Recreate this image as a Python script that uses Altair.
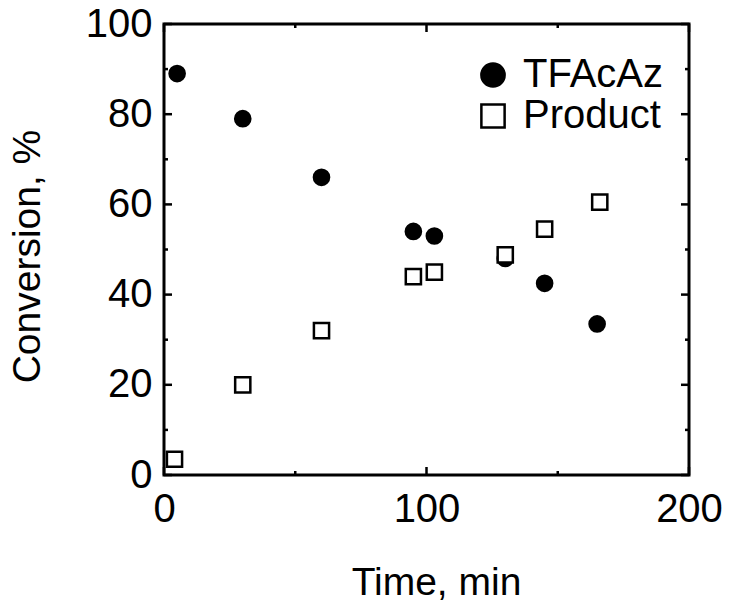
import altair as alt
import pandas as pd

# Conversion of TFAcAz and formation of product over time
time_tfacaz = [5, 30, 60, 95, 103, 130, 145, 165]
conv_tfacaz = [89, 79, 66, 54, 53, 48, 42.5, 33.5]
time_product = [4, 30, 60, 95, 103, 130, 145, 166]
conv_product = [3.5, 20, 32, 44, 45, 48.8, 54.5, 60.5]
series_names = ["TFAcAz", "Product"]

x_major = [0, 100, 200]
x_minor = [50, 150]
y_major = [0, 20, 40, 60, 80, 100]
y_minor = [10, 30, 50, 70, 90]

W, H = 525, 451
FONT = "Liberation Sans"

points = pd.concat([
    pd.DataFrame({"time": time_tfacaz, "conv": conv_tfacaz, "series": series_names[0]}),
    pd.DataFrame({"time": time_product, "conv": conv_product, "series": series_names[1]}),
], ignore_index=True)

xscale = alt.Scale(domain=[0, 200], nice=False, zero=False)
yscale = alt.Scale(domain=[0, 100], nice=False, zero=False)

x_axis = alt.Axis(title="Time, min", values=x_major, grid=False, ticks=False,
                  domain=False, labelFontSize=40, labelPadding=14,
                  titleFontSize=39, titleFontWeight="normal", titlePadding=34,
                  titleX=272, titleAlign="center",
                  labelFont=FONT, titleFont=FONT, labelColor="black",
                  titleColor="black")
y_axis = alt.Axis(title="Conversion, %", values=y_major, grid=False, ticks=False,
                  domain=False, labelFontSize=40, labelPadding=12,
                  titleFontSize=39, titleFontWeight="normal", titlePadding=38,
                  titleY=232, titleAlign="center",
                  labelFont=FONT, titleFont=FONT, labelColor="black",
                  titleColor="black")

legend = alt.Legend(title=None, orient="none", legendX=309, legendY=31,
                    labelFontSize=40, labelFont=FONT, labelColor="black",
                    symbolSize=540, symbolStrokeWidth=2.5, labelOffset=10,
                    rowPadding=1, padding=0)

scatter = alt.Chart(points).mark_point(filled=True, stroke="black", strokeWidth=2.5,
                                       opacity=1, size=230).encode(
    x=alt.X("time:Q", scale=xscale, axis=x_axis),
    y=alt.Y("conv:Q", scale=yscale, axis=y_axis),
    shape=alt.Shape("series:N", scale=alt.Scale(domain=series_names, range=["circle", "square"]),
                    legend=legend),
    fill=alt.Fill("series:N", scale=alt.Scale(domain=series_names, range=["black", "white"]),
                  legend=legend),
)


def tick_layer(values, axis, side, length):
    ch = alt.Chart(pd.DataFrame({"time": values, "conv": values})).mark_rule(
        color="black", strokeWidth=2.5)
    if axis == "y":
        pos = alt.Y("conv:Q", scale=yscale, axis=y_axis)
        if side == "left":
            return ch.encode(y=pos, x=alt.value(0), x2=alt.value(length))
        return ch.encode(y=pos, x=alt.value(W - length), x2=alt.value(W))
    pos = alt.X("time:Q", scale=xscale, axis=x_axis)
    if side == "bottom":
        return ch.encode(x=pos, y=alt.value(H - length), y2=alt.value(H))
    return ch.encode(x=pos, y=alt.value(0), y2=alt.value(length))


ticks = [
    tick_layer(y_major, "y", "left", 8), tick_layer(y_minor, "y", "left", 4),
    tick_layer(y_major, "y", "right", 8), tick_layer(y_minor, "y", "right", 4),
    tick_layer(x_major, "x", "bottom", 8), tick_layer(x_minor, "x", "bottom", 4),
    tick_layer(x_major, "x", "top", 8), tick_layer(x_minor, "x", "top", 4),
]

chart = alt.layer(scatter, *ticks).properties(
    width=W, height=H,
    autosize=alt.AutoSizeParams(type="none"),
    padding={"left": 164, "top": 24, "right": 40, "bottom": 126},
    background="white",
).configure_view(stroke="black", strokeWidth=3).configure_axis(labelFlush=False)

chart.save("out.html", embed_options={"renderer": "svg", "actions": False})
